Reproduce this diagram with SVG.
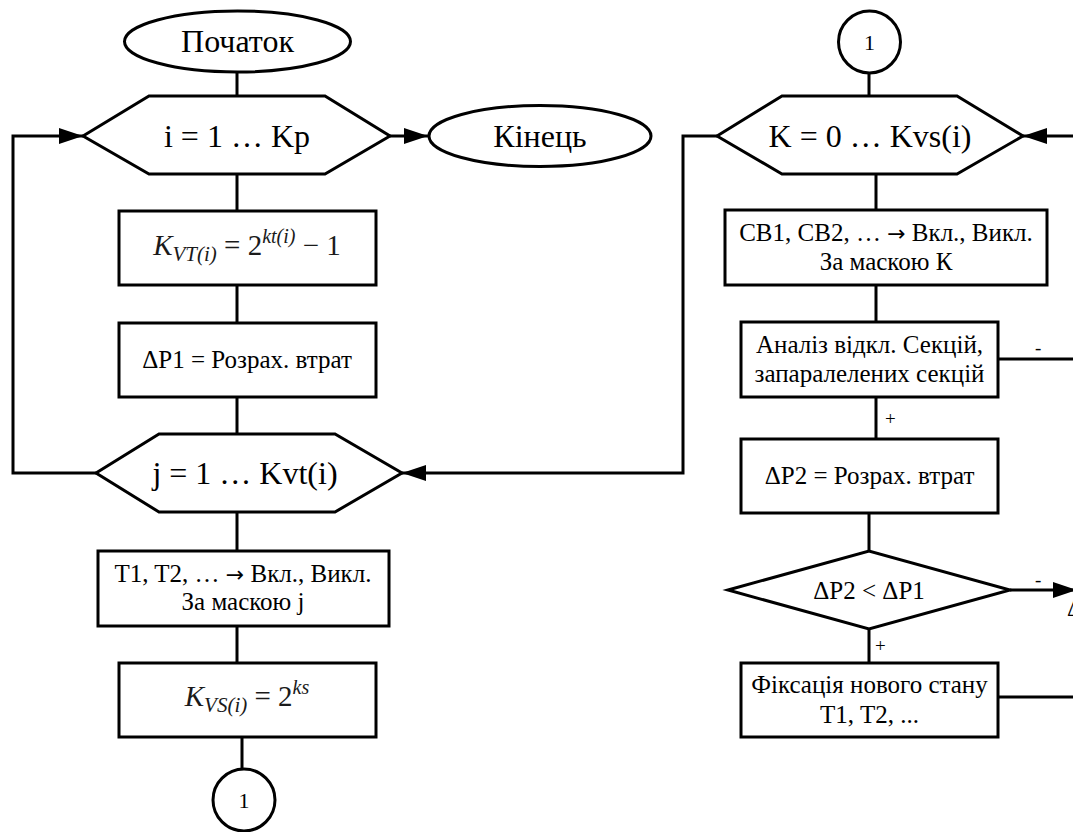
<svg xmlns="http://www.w3.org/2000/svg" width="1073" height="832" viewBox="0 0 1073 832" font-family="'Liberation Serif','Times New Roman',serif">
<defs>
<marker id="arr" markerUnits="userSpaceOnUse" markerWidth="24" markerHeight="16" refX="24" refY="8" orient="auto">
<path d="M0,0 L24,8 L0,16 z" fill="#000"/>
</marker>
<style>
.s{fill:#fff;stroke:#000;stroke-width:3}
.c{fill:none;stroke:#000;stroke-width:3}
.ca{fill:none;stroke:#000;stroke-width:3;marker-end:url(#arr)}
.big{font-size:32px;text-anchor:middle}
.sm{font-size:25px;text-anchor:middle}
.lb{font-size:19px}
.m{font-size:29px;fill:#1a1a1a;text-anchor:middle}
.mi{font-style:italic}
.ar{font-family:'DejaVu Sans',sans-serif;font-size:22px}
.one{font-size:22px;text-anchor:middle}
</style>
</defs>
<rect width="1073" height="832" fill="#fff"/>
<g id="connectors">
<path class="c" d="M237,73 V96 M237,174 V211 M237,285 V323 M237,397 V434 M237,512 V551 M237,626 V663 M242,737 V769"/>
<path class="c" d="M869,73 V96 M876,174 V210 M876,285 V322 M876,397 V439 M869,513 V551 M869,629 V663"/>
<path class="ca" d="M390,136 H428"/>
<path class="ca" d="M96,473 H13 V136 H83"/>
<path class="ca" d="M717,136 H683 V473 H402"/>
<path class="ca" d="M1076,136 H1023"/>
<path class="c" d="M998,359 H1076"/>
<path class="ca" d="M1010,590 H1077"/>
<path class="c" d="M998,697 H1076"/>
<text class="lb" x="1035" y="354">-</text>
<text class="lb" x="885" y="425">+</text>
<text class="lb" x="1035" y="586">-</text>
<text class="lb" x="875" y="652">+</text>
<text x="1067" y="616" style="font-size:24px">Δ</text>
</g>
<g id="start">
<ellipse class="s" cx="237.5" cy="41.5" rx="113" ry="30.5"/>
<text class="big" x="237.5" y="52">Початок</text>
</g>
<g id="loop-i">
<polygon class="s" points="83,136 149,96 325,96 390,136 325,174 149,174"/>
<text class="big" x="237" y="146.5">i = 1 … Kp</text>
</g>
<g id="end">
<ellipse class="s" cx="540" cy="136" rx="111" ry="30.5"/>
<text class="big" x="540" y="147">Кінець</text>
</g>
<g id="kvt">
<rect class="s" x="119" y="211" width="257" height="74"/>
<text class="m" x="247" y="255"><tspan class="mi">K</tspan><tspan class="mi" font-size="21" dy="6">VT(i)</tspan><tspan dy="-6"> = 2</tspan><tspan class="mi" font-size="20" dy="-12">kt(i)</tspan><tspan dy="12"> − 1</tspan></text>
</g>
<g id="dp1">
<rect class="s" x="119" y="323" width="257" height="74"/>
<text class="sm" x="247" y="368">ΔP1 = Розрах. втрат</text>
</g>
<g id="loop-j">
<polygon class="s" points="96,473 159,434 335,434 402,473 335,512 159,512"/>
<text class="big" x="245" y="483.5">j = 1 … Kvt(i)</text>
</g>
<g id="t-mask">
<rect class="s" x="98" y="551" width="291" height="75"/>
<text class="sm" x="243" y="582">T1, T2, … <tspan class="ar">→</tspan> Вкл., Викл.</text>
<text class="sm" x="243" y="610">За маскою j</text>
</g>
<g id="kvs">
<rect class="s" x="119" y="663" width="257" height="74"/>
<text class="m" x="247" y="706"><tspan class="mi">K</tspan><tspan class="mi" font-size="21" dy="6">VS(i)</tspan><tspan dy="-6"> = 2</tspan><tspan class="mi" font-size="20" dy="-12">ks</tspan></text>
</g>
<g id="conn-out">
<circle class="s" cx="244" cy="800" r="31"/>
<text class="one" x="244" y="808">1</text>
</g>
<g id="conn-in">
<circle class="s" cx="869.5" cy="42" r="31"/>
<text class="one" x="869.5" y="50">1</text>
</g>
<g id="loop-k">
<polygon class="s" points="717,136 782,96 957,96 1023,136 957,174 782,174"/>
<text class="big" x="870" y="146.5">K = 0 … Kvs(i)</text>
</g>
<g id="cb-mask">
<rect class="s" x="725" y="210" width="322" height="75"/>
<text class="sm" x="886" y="241">CB1, CB2, … <tspan class="ar">→</tspan> Вкл., Викл.</text>
<text class="sm" x="886" y="270">За маскою К</text>
</g>
<g id="analysis">
<rect class="s" x="741" y="322" width="257" height="75"/>
<text class="sm" x="869.5" y="353">Аналіз відкл. Секцій,</text>
<text class="sm" x="869.5" y="382">запаралелених секцій</text>
</g>
<g id="dp2">
<rect class="s" x="741" y="439" width="257" height="74"/>
<text class="sm" x="869.5" y="484">ΔP2 = Розрах. втрат</text>
</g>
<g id="compare">
<polygon class="s" points="728,590 869,551 1010,590 869,629"/>
<text class="sm" x="869" y="599">ΔP2 &lt; ΔP1</text>
</g>
<g id="fix">
<rect class="s" x="741" y="663" width="257" height="74"/>
<text class="sm" x="869.5" y="693">Фіксація нового стану</text>
<text class="sm" x="869.5" y="723">T1, T2, ...</text>
</g>
</svg>
